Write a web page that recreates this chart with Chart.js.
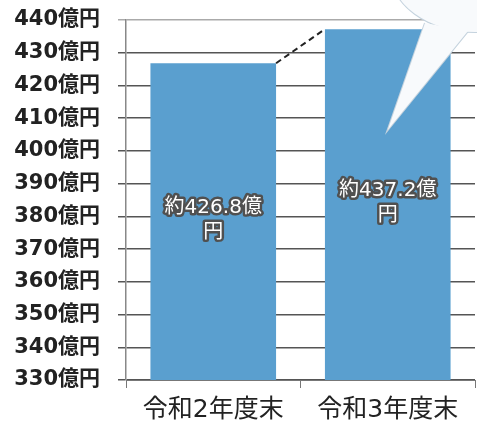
<!DOCTYPE html>
<html>
<head>
<meta charset="utf-8">
<script src="https://cdn.jsdelivr.net/npm/chart.js@4/dist/chart.umd.min.js"></script>
<style>
  html, body { margin: 0; padding: 0; background: #fff; }
  #wrap { width: 477px; height: 423px; }
</style>
</head>
<body>
<div id="wrap"><canvas id="myChart" width="477" height="423"></canvas></div>
<script>
const years = ['令和2年度末', '令和3年度末'];
const amounts = [426.8, 437.2];
const barLabels = [['約426.8億', '円'], ['約437.2億', '円']];
const yMin = 330;
const yMax = 440;
const yStep = 10;

const fontFamily = '"DejaVu Sans", "Noto Sans CJK JP", sans-serif';

// labels in the middle of each bar, white with a dark rim
const barText = {
  id: 'barText',
  afterDatasetsDraw(chart) {
    const ctx = chart.ctx;
    const bottom = chart.scales.y.getPixelForValue(yMin);
    ctx.save();
    ctx.font = '20px ' + fontFamily;
    ctx.textAlign = 'center';
    ctx.textBaseline = 'middle';
    ctx.lineJoin = 'round';
    amounts.forEach((v, i) => {
      const x = chart.scales.x.getPixelForValue(i);
      const top = chart.scales.y.getPixelForValue(v);
      const mid = (top + bottom) / 2 - 1;
      const lines = barLabels[i];
      lines.forEach((t, j) => {
        const y = mid + (j - (lines.length - 1) / 2) * 25;
        ctx.lineWidth = 5;
        ctx.strokeStyle = '#505050';
        ctx.strokeText(t, x, y);
        ctx.fillStyle = '#ffffff';
        ctx.fillText(t, x, y);
      });
    });
    ctx.restore();
  }
};

// dashed line joining the tops of the two bars
const growthLine = {
  id: 'growthLine',
  afterDatasetsDraw(chart) {
    const ctx = chart.ctx;
    const bars = chart.getDatasetMeta(0).data;
    const a = bars[0], b = bars[1];
    ctx.save();
    ctx.setLineDash([6, 4]);
    ctx.lineWidth = 2;
    ctx.strokeStyle = '#222';
    ctx.beginPath();
    ctx.moveTo(a.x + a.width / 2, a.y);
    ctx.lineTo(b.x - b.width / 2, b.y);
    ctx.stroke();
    ctx.restore();
  }
};

// speech bubble poking in from the top right corner
const bubble = {
  id: 'bubble',
  afterDraw(chart) {
    const ctx = chart.ctx;
    const area = chart.chartArea;
    const bars = chart.getDatasetMeta(0).data;
    const tipX = bars[1].x;
    const tipY = area.top + 110;
    const cx = area.right;
    const cy = area.top - 50;
    ctx.save();
    ctx.beginPath();
    ctx.ellipse(cx, cy, 85, 62, 0, 0, Math.PI * 2);
    ctx.fillStyle = '#f8fafc';
    ctx.strokeStyle = '#c5d3de';
    ctx.lineWidth = 2;
    ctx.stroke();
    ctx.beginPath();
    ctx.moveTo(cx - 50, area.top + 3);
    ctx.lineTo(tipX, tipY);
    ctx.lineTo(cx - 7, area.top + 11);
    ctx.stroke();
    ctx.closePath();
    ctx.fill();
    ctx.beginPath();
    ctx.ellipse(cx, cy, 85, 62, 0, 0, Math.PI * 2);
    ctx.fill();
    ctx.restore();
  }
};

new Chart(document.getElementById('myChart'), {
  type: 'bar',
  data: {
    labels: years,
    datasets: [{
      data: amounts,
      backgroundColor: '#5a9fcf',
      borderWidth: 0,
      barPercentage: 0.72,
      categoryPercentage: 1
    }]
  },
  options: {
    responsive: false,
    animation: false,
    layout: { padding: { top: 20, right: 2, left: 0, bottom: 0 } },
    plugins: {
      legend: { display: false },
      tooltip: { enabled: false }
    },
    scales: {
      x: {
        grid: { drawOnChartArea: false, tickLength: 8, color: '#777' },
        border: { color: '#777', width: 1 },
        ticks: { color: '#222', font: { family: fontFamily, size: 25 }, padding: 7 },
        afterFit(scale) {
          scale.height = 43;
          scale.paddingLeft = 0;
          scale.paddingRight = 0;
        }
      },
      y: {
        min: yMin,
        max: yMax,
        grid: {
          tickLength: 8,
          color: (c) => c.tick && c.tick.value === yMax ? '#aaa' : '#555',
          lineWidth: 1.5
        },
        border: { color: '#888', width: 1.5 },
        ticks: {
          stepSize: yStep,
          color: '#222',
          font: { family: fontFamily, size: 21, weight: 'bold' },
          padding: 18,
          callback: (v) => v + '億円'
        },
        afterFit(scale) {
          scale.width = 126;
          scale.paddingTop = 0;
          scale.paddingBottom = 0;
        }
      }
    }
  },
  plugins: [growthLine, barText, bubble]
});
</script>
</body>
</html>
